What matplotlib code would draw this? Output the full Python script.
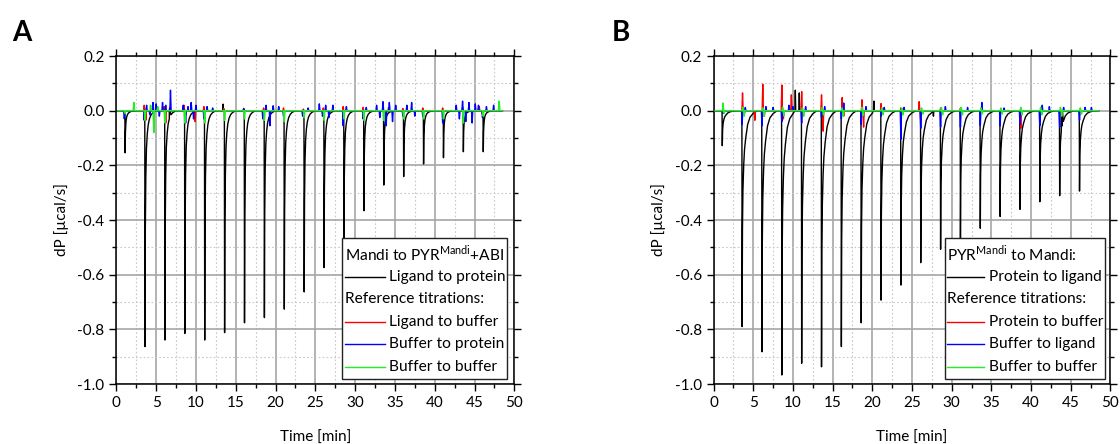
import numpy as np
import matplotlib
matplotlib.use('Agg')
import matplotlib.pyplot as plt
from matplotlib.patches import Rectangle
from matplotlib.ticker import MultipleLocator, FormatStrFormatter

plt.rcParams['font.family'] = ['Lato', 'DejaVu Sans']
plt.rcParams['axes.unicode_minus'] = False

# injection times [min], same for both runs
inj_t = [1.1, 3.6, 6.1, 8.6, 11.1, 13.6, 16.1, 18.6, 21.1, 23.6,
         26.1, 28.6, 31.1, 33.6, 36.1, 38.6, 41.1, 43.6, 46.1]

# peak minima of the main titration [ucal/s]
depth_a = [-0.154, -0.863, -0.839, -0.815, -0.839, -0.812, -0.776, -0.757, -0.726, -0.663,
           -0.574, -0.49, -0.366, -0.272, -0.241, -0.195, -0.172, -0.15, -0.15]
depth_b = [-0.128, -0.790, -0.882, -0.967, -0.924, -0.937, -0.863, -0.776, -0.693, -0.638,
           -0.556, -0.507, -0.47, -0.430, -0.387, -0.361, -0.333, -0.311, -0.294]

# peak shape (time after injection, fraction of minimum)
prof_a_dt = [-0.03, 0.0, 0.04, 0.1, 0.18, 0.28, 0.4, 0.55, 0.75, 1.0, 1.4]
prof_a_fr = [0.0, 1.0, 0.5, 0.28, 0.16, 0.1, 0.06, 0.035, 0.018, 0.008, 0.0]
prof_b_dt = [-0.03, 0.0, 0.04, 0.1, 0.2, 0.3, 0.45, 0.7, 1.0, 1.4, 1.9]
prof_b_fr = [0.0, 1.0, 0.55, 0.37, 0.25, 0.18, 0.127, 0.063, 0.03, 0.012, 0.0]

# small extra excursions on the main trace
bumps_a = [(6.7, 0.01), (13.4, 0.024)]
bumps_b = [(10.3, 0.075), (10.8, 0.065), (20.2, 0.035), (27.7, -0.02), (43.9, -0.02)]

# reference titrations A (time, value)
red_a = [(3.5, 0.02), (3.7, -0.035), (6.0, 0.015), (6.2, -0.045), (8.5, 0.02), (8.7, -0.015),
         (9.9, -0.04), (11.0, 0.015), (13.5, 0.008), (16.0, 0.008), (18.5, 0.01), (21.0, 0.01),
         (23.5, 0.006), (26.0, 0.01), (28.5, 0.015), (31.0, 0.012), (33.5, 0.01), (34.2, 0.012),
         (36.0, 0.008), (38.5, 0.01), (41.0, 0.01), (43.5, 0.012), (45.6, 0.015), (46.0, -0.012)]
blue_a = [(1.0, -0.03), (3.5, -0.035), (3.8, 0.02), (4.2, -0.015), (4.6, 0.03), (5.0, 0.025),
          (5.4, -0.02), (5.8, 0.03), (6.2, 0.02), (6.8, 0.075), (8.4, 0.02), (8.7, -0.045),
          (9.0, 0.015), (9.4, 0.03), (9.7, -0.03), (10.0, 0.02), (11.0, -0.03), (11.4, 0.015),
          (12.1, 0.01), (16.0, 0.008), (18.4, -0.03), (18.8, 0.02), (19.3, -0.055), (19.7, 0.018),
          (20.4, 0.015), (21.0, -0.02), (23.4, -0.02), (24.1, 0.01), (25.5, 0.025), (25.9, -0.02),
          (26.3, 0.02), (26.7, -0.025), (27.2, 0.02), (28.5, -0.055), (28.9, 0.015), (31.0, -0.03),
          (31.4, 0.012), (32.7, 0.02), (33.1, -0.025), (33.5, 0.033), (33.9, -0.055), (34.3, 0.03),
          (34.7, -0.04), (35.1, 0.02), (36.0, -0.02), (36.5, 0.02), (37.1, 0.03), (37.5, -0.02),
          (38.5, -0.02), (41.0, -0.045), (42.7, 0.02), (43.1, -0.03), (43.5, 0.035), (43.9, -0.04),
          (44.3, 0.03), (44.7, -0.045), (45.1, 0.025), (45.5, 0.02), (46.0, -0.025), (46.5, 0.015),
          (47.4, 0.02)]
green_a = [(1.1, -0.01), (2.2, 0.03), (3.6, -0.035), (4.3, 0.02), (4.7, -0.08), (5.2, 0.015),
           (6.1, -0.045), (8.6, -0.045), (11.1, -0.045), (13.6, -0.035), (16.1, -0.03),
           (18.6, -0.035), (21.1, -0.04), (23.6, -0.025), (26.1, -0.035), (28.6, -0.03),
           (31.1, -0.035), (33.6, -0.035), (36.1, -0.03), (38.6, -0.03), (41.1, -0.03),
           (43.6, -0.045), (46.1, -0.02), (48.1, 0.035)]

# reference titrations B
red_b = [(3.65, 0.065), (3.9, -0.01), (5.2, -0.035), (6.2, 0.097), (6.4, -0.02), (8.6, 0.094),
         (8.8, -0.03), (9.8, 0.058), (11.1, 0.07), (11.3, -0.02), (13.6, 0.058), (13.8, -0.075),
         (16.2, 0.048), (16.4, -0.02), (18.7, 0.04), (18.9, -0.06), (21.1, 0.026), (23.6, 0.01),
         (25.9, 0.033), (26.1, -0.035), (28.6, 0.01), (31.1, 0.01), (38.7, -0.065), (43.6, -0.015)]
blue_b = [(1.2, -0.01), (3.6, -0.05), (4.0, 0.012), (6.1, -0.055), (6.6, 0.015), (7.5, 0.012),
          (8.6, -0.04), (9.5, 0.02), (10.0, 0.015), (11.1, -0.045), (11.6, 0.015), (13.6, -0.025),
          (14.0, 0.015), (16.1, -0.03), (16.4, 0.028), (18.6, -0.05), (19.2, 0.015), (21.1, -0.02),
          (21.5, 0.012), (23.6, -0.105), (24.0, 0.012), (26.1, -0.065), (28.6, -0.06), (29.2, 0.015),
          (31.1, -0.06), (32.0, 0.012), (33.6, -0.055), (33.8, 0.03), (36.1, -0.055), (36.6, 0.01),
          (38.6, -0.05), (41.1, -0.055), (41.4, 0.02), (42.3, 0.015), (43.6, -0.06), (44.1, 0.012),
          (46.1, -0.035), (46.8, 0.012), (47.6, 0.012)]
green_b_up = [0.028, 0.012, 0.01, 0.012, 0.01, 0.012, 0.01, 0.012, 0.01, 0.01,
              0.01, 0.012, 0.012, 0.01, 0.01, 0.012, 0.012, 0.012, 0.01]
green_b_dn = [-0.01, -0.02, -0.02, -0.018, -0.02, -0.015, -0.02, -0.018, -0.015, -0.015,
              -0.012, -0.015, -0.015, -0.012, -0.012, -0.015, -0.015, -0.02, -0.012]

RED, BLUE, GREEN = '#ff0000', '#0000ff', '#22ee22'


def spike_trace(spikes, w=0.08, t0=0.2, t1=48.5):
    pts = [(t0, 0.0), (t1, 0.0)]
    for t, v in spikes:
        pts += [(t - w, 0.0), (t, v), (t + w, 0.0)]
    pts.sort()
    return np.array(pts).T


def main_trace(depths, dts, frs, bumps):
    pts = [(0.2, 0.0), (48.5, 0.0)]
    for t, d in zip(inj_t, depths):
        pts += [(t + dt, d * fr) for dt, fr in zip(dts, frs)]
    for t, v in bumps:
        pts += [(t - 0.05, 0.0), (t, v), (t + 0.05, 0.0)]
    pts.sort()
    return np.array(pts).T


def setup(ax):
    ax.set_xlim(0, 50)
    ax.set_ylim(-1.0, 0.2)
    ax.xaxis.set_major_locator(MultipleLocator(5))
    ax.xaxis.set_minor_locator(MultipleLocator(2.5))
    ax.yaxis.set_major_locator(MultipleLocator(0.2))
    ax.yaxis.set_minor_locator(MultipleLocator(0.1))
    ax.yaxis.set_major_formatter(FormatStrFormatter('%.1f'))
    ax.grid(which='major', color='#a6a6a6', lw=1.2, ls='-')
    ax.grid(which='minor', color='#c8c8c8', lw=0.8, ls=(0, (1.5, 2)))
    ax.set_axisbelow(True)
    ax.tick_params(which='both', direction='out', top=True, right=True,
                   labelsize=11, width=1, color='black')
    ax.tick_params(which='major', length=5)
    ax.tick_params(which='minor', length=3)
    for s in ax.spines.values():
        s.set_linewidth(1.1)
    ax.set_xlabel('Time [min]', fontsize=11, labelpad=15)
    ax.set_ylabel('dP [µcal/s]', fontsize=11, labelpad=6)


def legend_box(ax, x0, x1, hx0, hx1, tx, rows):
    y_top, y_bot = 0.445, 0.015
    ax.add_patch(Rectangle((x0, y_bot), x1 - x0, y_top - y_bot, transform=ax.transAxes,
                           facecolor='white', edgecolor='#222222', lw=1.0, zorder=5))
    ys = [0.396, 0.327, 0.259, 0.190, 0.121, 0.051]
    for (label, color), y in zip(rows, ys):
        if color is None:
            ax.text(hx0, y, label, transform=ax.transAxes, fontsize=11.2,
                    va='center', ha='left', zorder=6)
        else:
            ax.plot([hx0, hx1], [y, y], color=color, lw=1.0, transform=ax.transAxes, zorder=6)
            ax.text(tx, y, label, transform=ax.transAxes, fontsize=11.2,
                    va='center', ha='left', zorder=6)


fig = plt.figure(figsize=(11.2, 4.44), dpi=100)
ax_a = fig.add_axes([0.1039, 0.1351, 0.3553, 0.7387])
ax_b = fig.add_axes([0.6371, 0.1351, 0.3544, 0.7387])

for ax, depths, dts, frs, bumps, red, blue in [
        (ax_a, depth_a, prof_a_dt, prof_a_fr, bumps_a, red_a, blue_a),
        (ax_b, depth_b, prof_b_dt, prof_b_fr, bumps_b, red_b, blue_b)]:
    setup(ax)
    x, y = main_trace(depths, dts, frs, bumps)
    ax.plot(x, y, color='black', lw=1.0, zorder=3)
    x, y = spike_trace(red)
    ax.plot(x, y, color=RED, lw=1.0, zorder=3)
    x, y = spike_trace(blue)
    ax.plot(x, y, color=BLUE, lw=1.0, zorder=3)

x, y = spike_trace(green_a)
ax_a.plot(x, y, color=GREEN, lw=1.1, zorder=3)
green_b = [(t + 0.1, u) for t, u in zip(inj_t, green_b_up)] + \
          [(t + 0.25, d) for t, d in zip(inj_t, green_b_dn)]
x, y = spike_trace(green_b, w=0.07)
ax_b.plot(x, y, color=GREEN, lw=1.1, zorder=3)

legend_box(ax_a, 0.567, 0.982, 0.5735, 0.675, 0.686,
           [('Mandi to PYR$^{\\mathregular{Mandi}}$+ABI', None),
            ('Ligand to protein', 'black'),
            ('Reference titrations:', None),
            ('Ligand to buffer', RED),
            ('Buffer to protein', BLUE),
            ('Buffer to buffer', GREEN)])
legend_box(ax_b, 0.583, 0.985, 0.589, 0.682, 0.693,
           [('PYR$^{\\mathregular{Mandi}}$ to Mandi:', None),
            ('Protein to ligand', 'black'),
            ('Reference titrations:', None),
            ('Protein to buffer', RED),
            ('Buffer to ligand', BLUE),
            ('Buffer to buffer', GREEN)])

fig.text(0.011, 0.955, 'A', fontsize=20, fontweight='bold', va='top', ha='left')
fig.text(0.546, 0.955, 'B', fontsize=20, fontweight='bold', va='top', ha='left')

fig.savefig('out.png', dpi=100)
